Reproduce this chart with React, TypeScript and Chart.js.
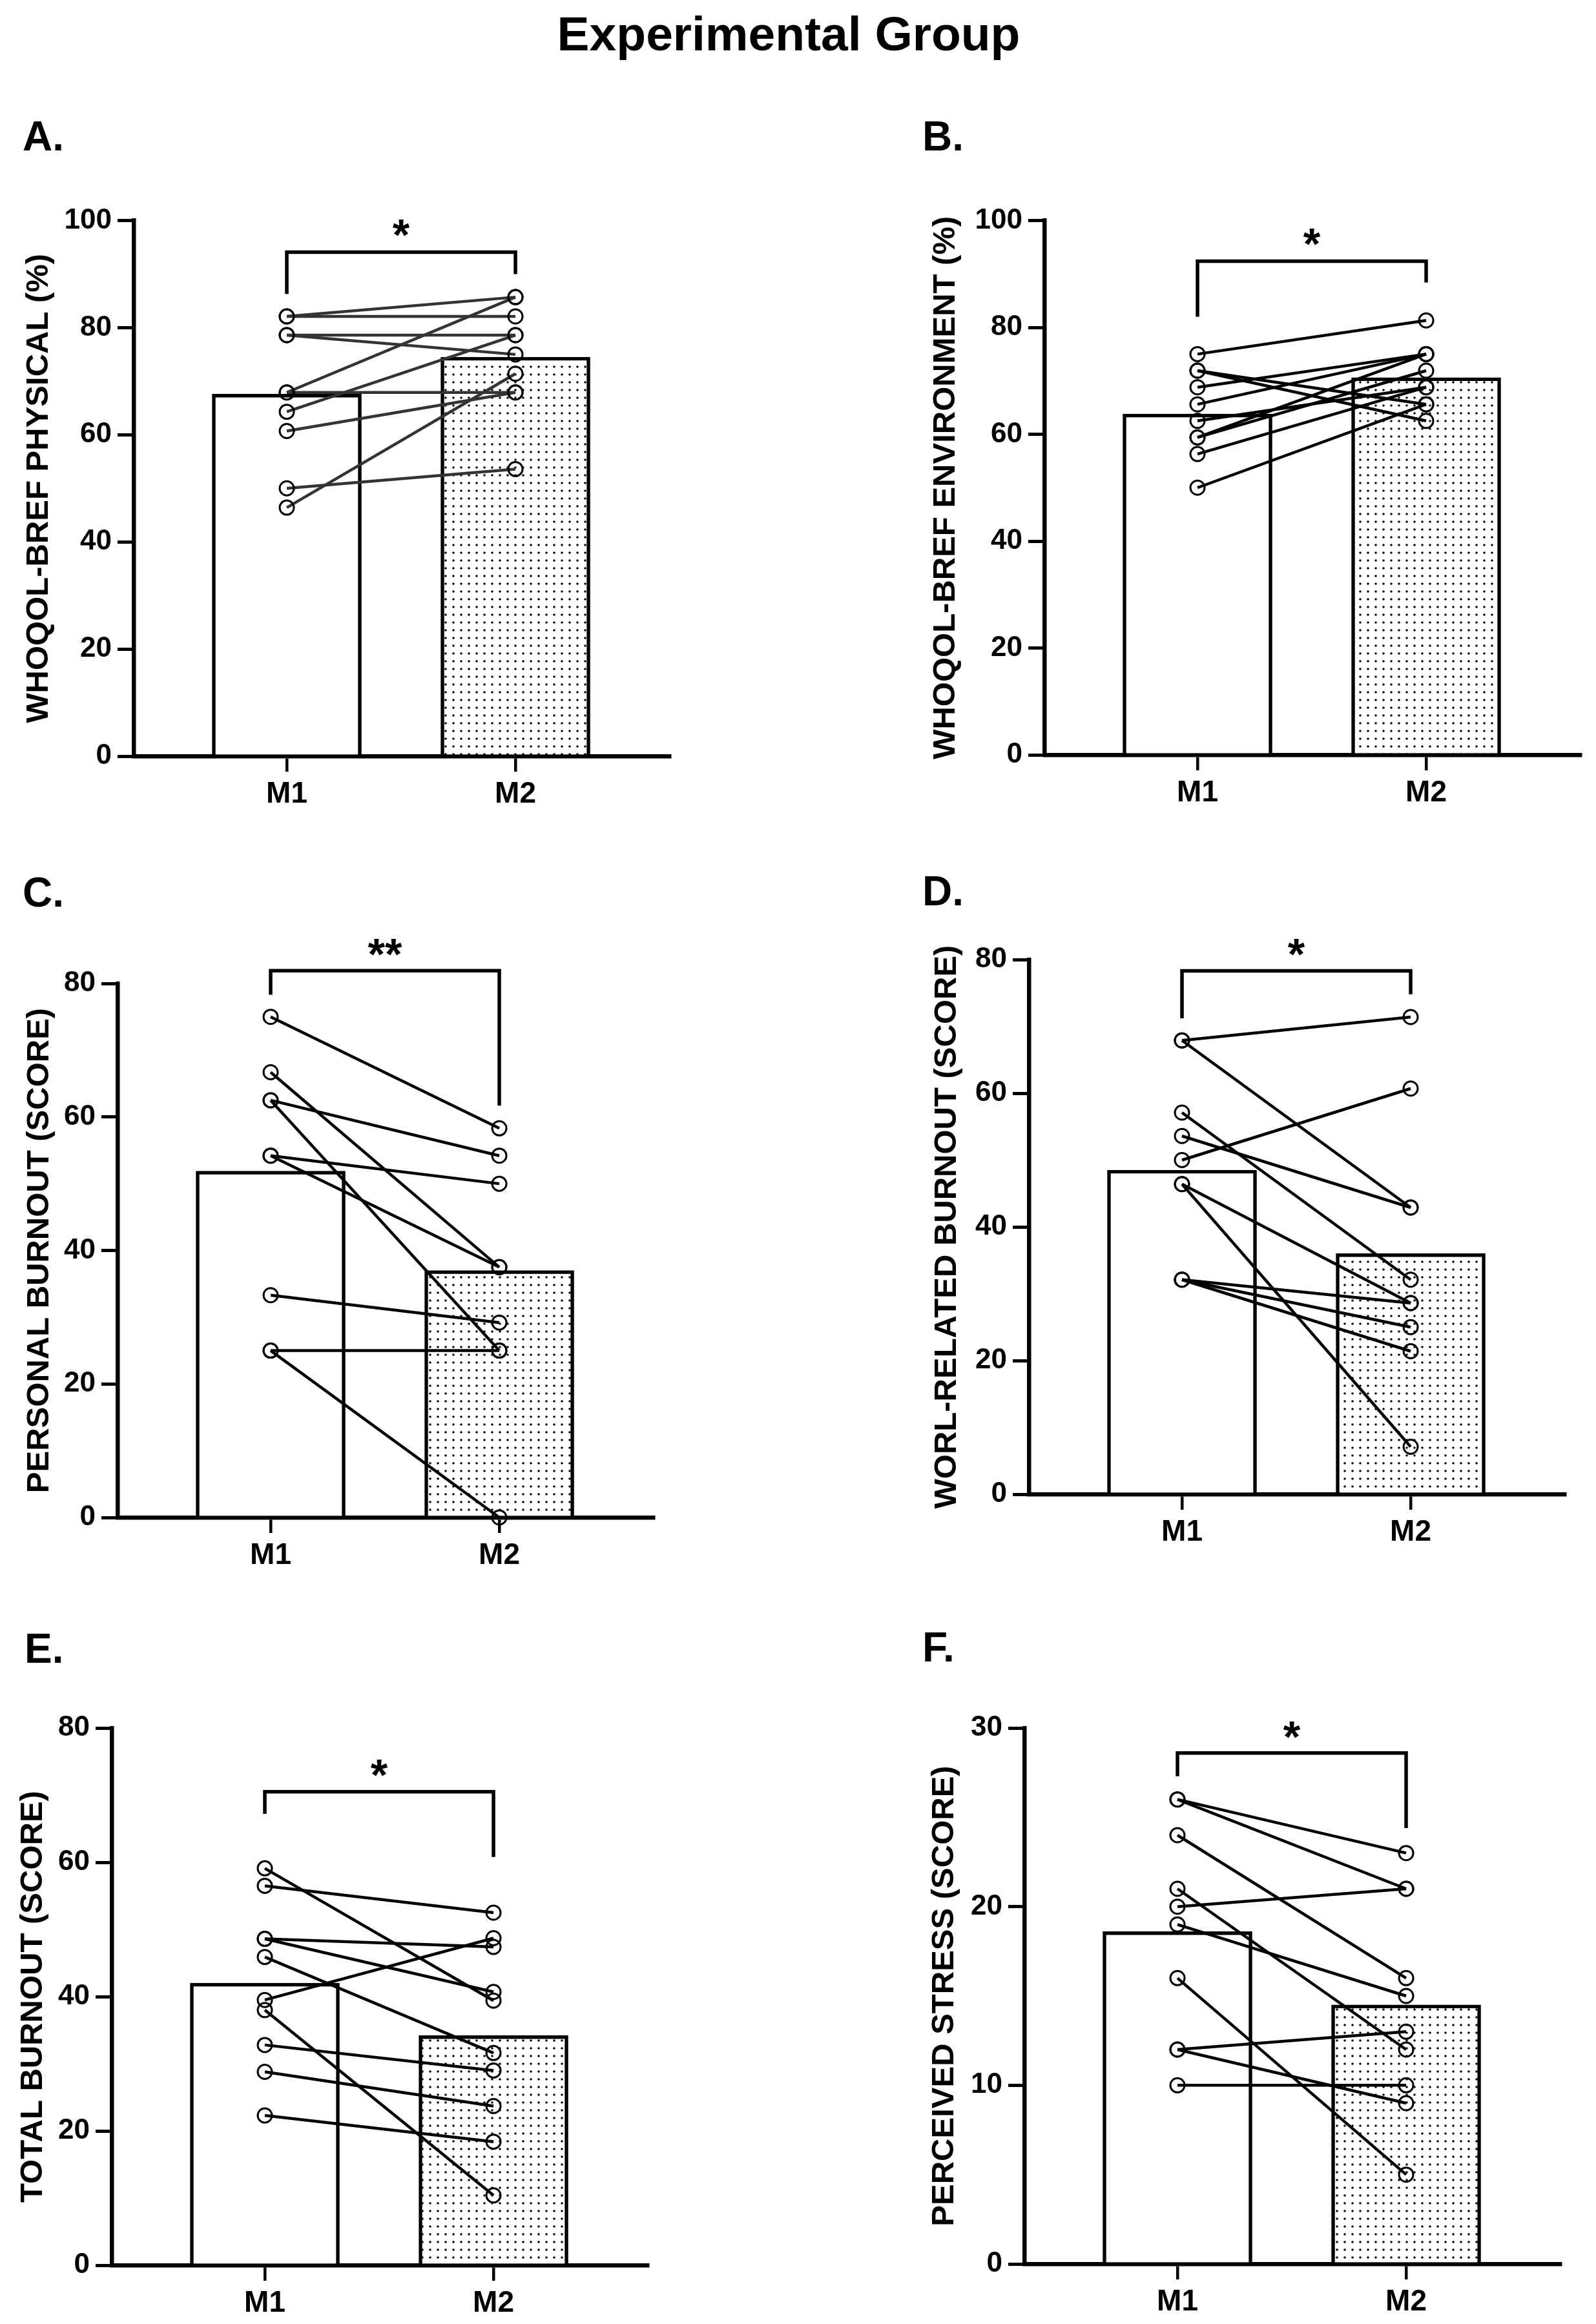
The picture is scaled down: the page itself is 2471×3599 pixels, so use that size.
import { useEffect, useRef } from "react"
import Chart from "chart.js/auto"

const FONT = "'Liberation Sans', Arial, sans-serif"

const categories = ["M1", "M2"]

// A. WHOQOL-BREF physical
const physicalM1 = [82.1, 82.1, 78.6, 78.6, 67.9, 67.9, 64.3, 60.7, 50.0, 46.4]
const physicalM2 = [85.7, 82.1, 78.6, 75.0, 85.7, 67.9, 78.6, 67.9, 53.6, 71.4]
const physicalBars = [67.6, 74.5]

// B. WHOQOL-BREF environment
const environmentM1 = [75.0, 71.9, 71.9, 68.8, 65.6, 62.5, 59.4, 59.4, 56.3, 50.0]
const environmentM2 = [81.3, 65.6, 62.5, 75.0, 75.0, 68.8, 75.0, 71.9, 68.8, 65.6]
const environmentBars = [63.8, 70.6]

// C. personal burnout
const personalM1 = [75.0, 66.7, 62.5, 62.5, 54.2, 54.2, 33.3, 25.0, 25.0]
const personalM2 = [58.3, 37.5, 54.2, 25.0, 50.0, 37.5, 29.2, 25.0, 0.0]
const personalBars = [51.9, 37.0]

// D. work-related burnout
const workM1 = [67.9, 67.9, 57.1, 53.6, 50.0, 46.4, 46.4, 32.1, 32.1, 32.1]
const workM2 = [71.4, 42.9, 32.1, 42.9, 60.7, 28.6, 7.1, 28.6, 25.0, 21.4]
const workBars = [48.5, 36.0]

// E. total burnout
const totalM1 = [59.1, 56.5, 48.6, 48.6, 45.9, 39.5, 38.0, 32.8, 28.8, 22.3]
const totalM2 = [39.4, 52.5, 47.4, 40.7, 31.6, 48.7, 10.4, 29.0, 23.7, 18.4]
const totalBars = [42.0, 34.2]

// F. perceived stress
const stressM1 = [26, 26, 24, 21, 20, 19, 16, 12, 12, 10]
const stressM2 = [23, 21, 16, 12, 21, 15, 5, 13, 9, 10]
const stressBars = [18.6, 14.5]

// significance brackets: [left leg end, top, right leg end]
const physicalBracket = [86.3, 94.1, 90.0]
const environmentBracket = [82.0, 92.4, 88.4]
const personalBracket = [78.3, 81.9, 61.7]
const workBracket = [71.2, 78.3, 74.8]
const totalBracket = [67.2, 70.5, 60.8]
const stressBracket = [27.3, 28.6, 24.4]

interface PanelProps {
  letter: string
  yTitle: string
  m1: number[]
  m2: number[]
  bars: number[]
  bracket: number[]
  stars: string
  starLevel: number
  yMax: number
  yStep: number
  lineColor: string
  left: number
  top: number
  width: number
  height: number
  axisX: number
  titleX: number
  topPx: number
  zeroPx: number
  labelLeft: number
  labelBaseline: number
}

const X_AXIS_H = 85
const PLOT_W = 830

function makeDots(): CanvasPattern | string {
  const tile = document.createElement("canvas")
  tile.width = 12
  tile.height = 12
  const c = tile.getContext("2d")
  if (!c) return "#eee"
  c.fillStyle = "#fff"
  c.fillRect(0, 0, 12, 12)
  c.fillStyle = "#000"
  c.beginPath()
  c.arc(6, 6, 1.8, 0, Math.PI * 2)
  c.fill()
  return c.createPattern(tile, "repeat") || "#eee"
}

const Panel = (p: PanelProps) => {
  const ref = useRef<HTMLCanvasElement>(null)

  useEffect(() => {
    if (!ref.current) return
    const titleSize = 49
    const padLeft = p.titleX - p.left - (titleSize * 1.2) / 2 - 4
    const yWidth = p.axisX - p.left - padLeft
    const padTop = p.topPx - p.top
    const padBottom = p.top + p.height - X_AXIS_H - p.zeroPx
    const padRight = p.left + p.width - p.axisX - PLOT_W

    const subjects = p.m1.map((v, i) => ({
      type: "line" as const,
      data: [
        { x: 1, y: v },
        { x: 2, y: p.m2[i] },
      ],
      borderColor: p.lineColor,
      borderWidth: 4.5,
      pointRadius: 11,
      pointBorderWidth: 3,
      pointBorderColor: "#000",
      pointBackgroundColor: "rgba(0,0,0,0)",
      clip: false as const,
      order: 1,
    }))

    const bracket = {
      type: "line" as const,
      data: [
        { x: 1, y: p.bracket[0] },
        { x: 1, y: p.bracket[1] },
        { x: 2, y: p.bracket[1] },
        { x: 2, y: p.bracket[2] },
      ],
      borderColor: "#000",
      borderWidth: 5.5,
      pointRadius: 0,
      borderJoinStyle: "miter" as const,
      clip: false as const,
      order: 0,
    }

    const bars = {
      type: "bar" as const,
      data: p.bars.map((v, i) => ({ x: i + 1, y: v })),
      backgroundColor: ["#fff", makeDots()],
      borderColor: "#000",
      borderWidth: 5.5,
      barThickness: 231,
      order: 2,
    }

    const starPlugin = {
      id: "stars",
      afterDatasetsDraw(chart: Chart) {
        const ctx = chart.ctx
        const cx = chart.scales.x.getPixelForValue(1.5)
        const cy = chart.scales.y.getPixelForValue(p.starLevel)
        ctx.save()
        ctx.font = `bold 68px ${FONT}`
        ctx.fillStyle = "#000"
        ctx.textAlign = "center"
        ctx.textBaseline = "alphabetic"
        const m = ctx.measureText(p.stars)
        const base = cy + (m.actualBoundingBoxAscent - m.actualBoundingBoxDescent) / 2
        ctx.fillText(p.stars, cx, base)
        ctx.restore()
      },
    }

    const chart = new Chart(ref.current, {
      type: "bar",
      data: { datasets: [bars, ...subjects, bracket] as any },
      plugins: [starPlugin],
      options: {
        responsive: false,
        animation: false,
        devicePixelRatio: 1,
        layout: { padding: { left: padLeft, right: padRight, top: padTop, bottom: padBottom } },
        plugins: { legend: { display: false }, tooltip: { enabled: false } },
        events: [],
        scales: {
          x: {
            type: "linear",
            min: 0.3305,
            max: 2.675,
            offset: false,
            afterBuildTicks: (scale: any) => {
              scale.ticks = [{ value: 1 }, { value: 2 }]
            },
            afterFit: (scale: any) => {
              scale.height = X_AXIS_H
            },
            ticks: {
              callback: (v: any) => categories[Number(v) - 1],
              font: { size: 46, weight: "bold", family: FONT },
              color: "#000",
              padding: 8,
              maxRotation: 0,
            },
            grid: {
              offset: false,
              drawOnChartArea: false,
              drawTicks: true,
              tickLength: 24,
              tickWidth: 4.5,
              tickColor: "#000",
              color: "#000",
              lineWidth: 4.5,
            },
            border: { display: true, color: "#000", width: 6.5 },
          },
          y: {
            min: 0,
            max: p.yMax,
            afterFit: (scale: any) => {
              scale.width = yWidth
            },
            ticks: {
              stepSize: p.yStep,
              font: { size: 44, weight: "bold", family: FONT },
              color: "#000",
              padding: 9,
            },
            grid: {
              drawOnChartArea: false,
              drawTicks: true,
              tickLength: 25,
              tickWidth: 5,
              tickColor: "#000",
              color: "#000",
              lineWidth: 5,
            },
            border: { display: true, color: "#000", width: 6.5 },
            title: {
              display: true,
              text: p.yTitle,
              font: { size: titleSize, weight: "bold", family: FONT },
              color: "#000",
              padding: { top: 4, bottom: 4 },
            },
          },
        },
      },
    })

    return () => chart.destroy()
  }, [p])

  return (
    <>
      <canvas
        ref={ref}
        width={p.width}
        height={p.height}
        style={{ position: "absolute", left: p.left, top: p.top, width: p.width, height: p.height }}
      />
      <div
        style={{
          position: "absolute",
          left: p.labelLeft,
          top: p.labelBaseline - 54,
          fontFamily: FONT,
          fontWeight: "bold",
          fontSize: 64,
          lineHeight: "64px",
          color: "#000",
        }}
      >
        {p.letter}
      </div>
    </>
  )
}

const LEFT = { left: 0, width: 1236 }
const RIGHT = { left: 1236, width: 1235 }
const ROW1 = { top: 250, height: 1050 }
const ROW2 = { top: 1420, height: 1060 }
const ROW3 = { top: 2590, height: 1009 }

const panels: PanelProps[] = [
  {
    letter: "A.", yTitle: "WHOQOL-BREF PHYSICAL (%)", m1: physicalM1, m2: physicalM2, bars: physicalBars,
    bracket: physicalBracket, stars: "*", starLevel: 98.6, yMax: 100, yStep: 20, lineColor: "#333",
    ...LEFT, ...ROW1, axisX: 207, titleX: 60, topPx: 341.5, zeroPx: 1171, labelLeft: 35, labelBaseline: 233,
  },
  {
    letter: "B.", yTitle: "WHOQOL-BREF ENVIRONMENT (%)", m1: environmentM1, m2: environmentM2, bars: environmentBars,
    bracket: environmentBracket, stars: "*", starLevel: 96.9, yMax: 100, yStep: 20, lineColor: "#000",
    ...RIGHT, ...ROW1, axisX: 1617, titleX: 1464, topPx: 341.5, zeroPx: 1169, labelLeft: 1428, labelBaseline: 233,
  },
  {
    letter: "C.", yTitle: "PERSONAL BURNOUT (SCORE)", m1: personalM1, m2: personalM2, bars: personalBars,
    bracket: personalBracket, stars: "**", starLevel: 85.4, yMax: 80, yStep: 20, lineColor: "#000",
    ...LEFT, ...ROW2, axisX: 182, titleX: 61, topPx: 1523, zeroPx: 2350, labelLeft: 35, labelBaseline: 1404,
  },
  {
    letter: "D.", yTitle: "WORL-RELATED BURNOUT (SCORE)", m1: workM1, m2: workM2, bars: workBars,
    bracket: workBracket, stars: "*", starLevel: 81.8, yMax: 80, yStep: 20, lineColor: "#000",
    ...RIGHT, ...ROW2, axisX: 1593, titleX: 1466, topPx: 1486, zeroPx: 2314, labelLeft: 1428, labelBaseline: 1402,
  },
  {
    letter: "E.", yTitle: "TOTAL BURNOUT (SCORE)", m1: totalM1, m2: totalM2, bars: totalBars,
    bracket: totalBracket, stars: "*", starLevel: 74.0, yMax: 80, yStep: 20, lineColor: "#000",
    ...LEFT, ...ROW3, axisX: 173, titleX: 51, topPx: 2676, zeroPx: 3508, labelLeft: 38, labelBaseline: 2575,
  },
  {
    letter: "F.", yTitle: "PERCEIVED STRESS (SCORE)", m1: stressM1, m2: stressM2, bars: stressBars,
    bracket: stressBracket, stars: "*", starLevel: 29.9, yMax: 30, yStep: 10, lineColor: "#000",
    ...RIGHT, ...ROW3, axisX: 1586, titleX: 1462, topPx: 2676, zeroPx: 3506, labelLeft: 1428, labelBaseline: 2573,
  },
]

const App = () => {
  return (
    <div style={{ position: "absolute", left: 0, top: 0, width: 2471, height: 3599, background: "#fff", overflow: "hidden" }}>
      <div
        style={{
          position: "absolute",
          left: 0,
          top: 15,
          width: 2442,
          textAlign: "center",
          fontFamily: FONT,
          fontWeight: "bold",
          fontSize: 75,
          lineHeight: "75px",
          color: "#000",
        }}
      >
        Experimental Group
      </div>
      {panels.map((p) => (
        <Panel key={p.letter} {...p} />
      ))}
    </div>
  )
}

export default App
